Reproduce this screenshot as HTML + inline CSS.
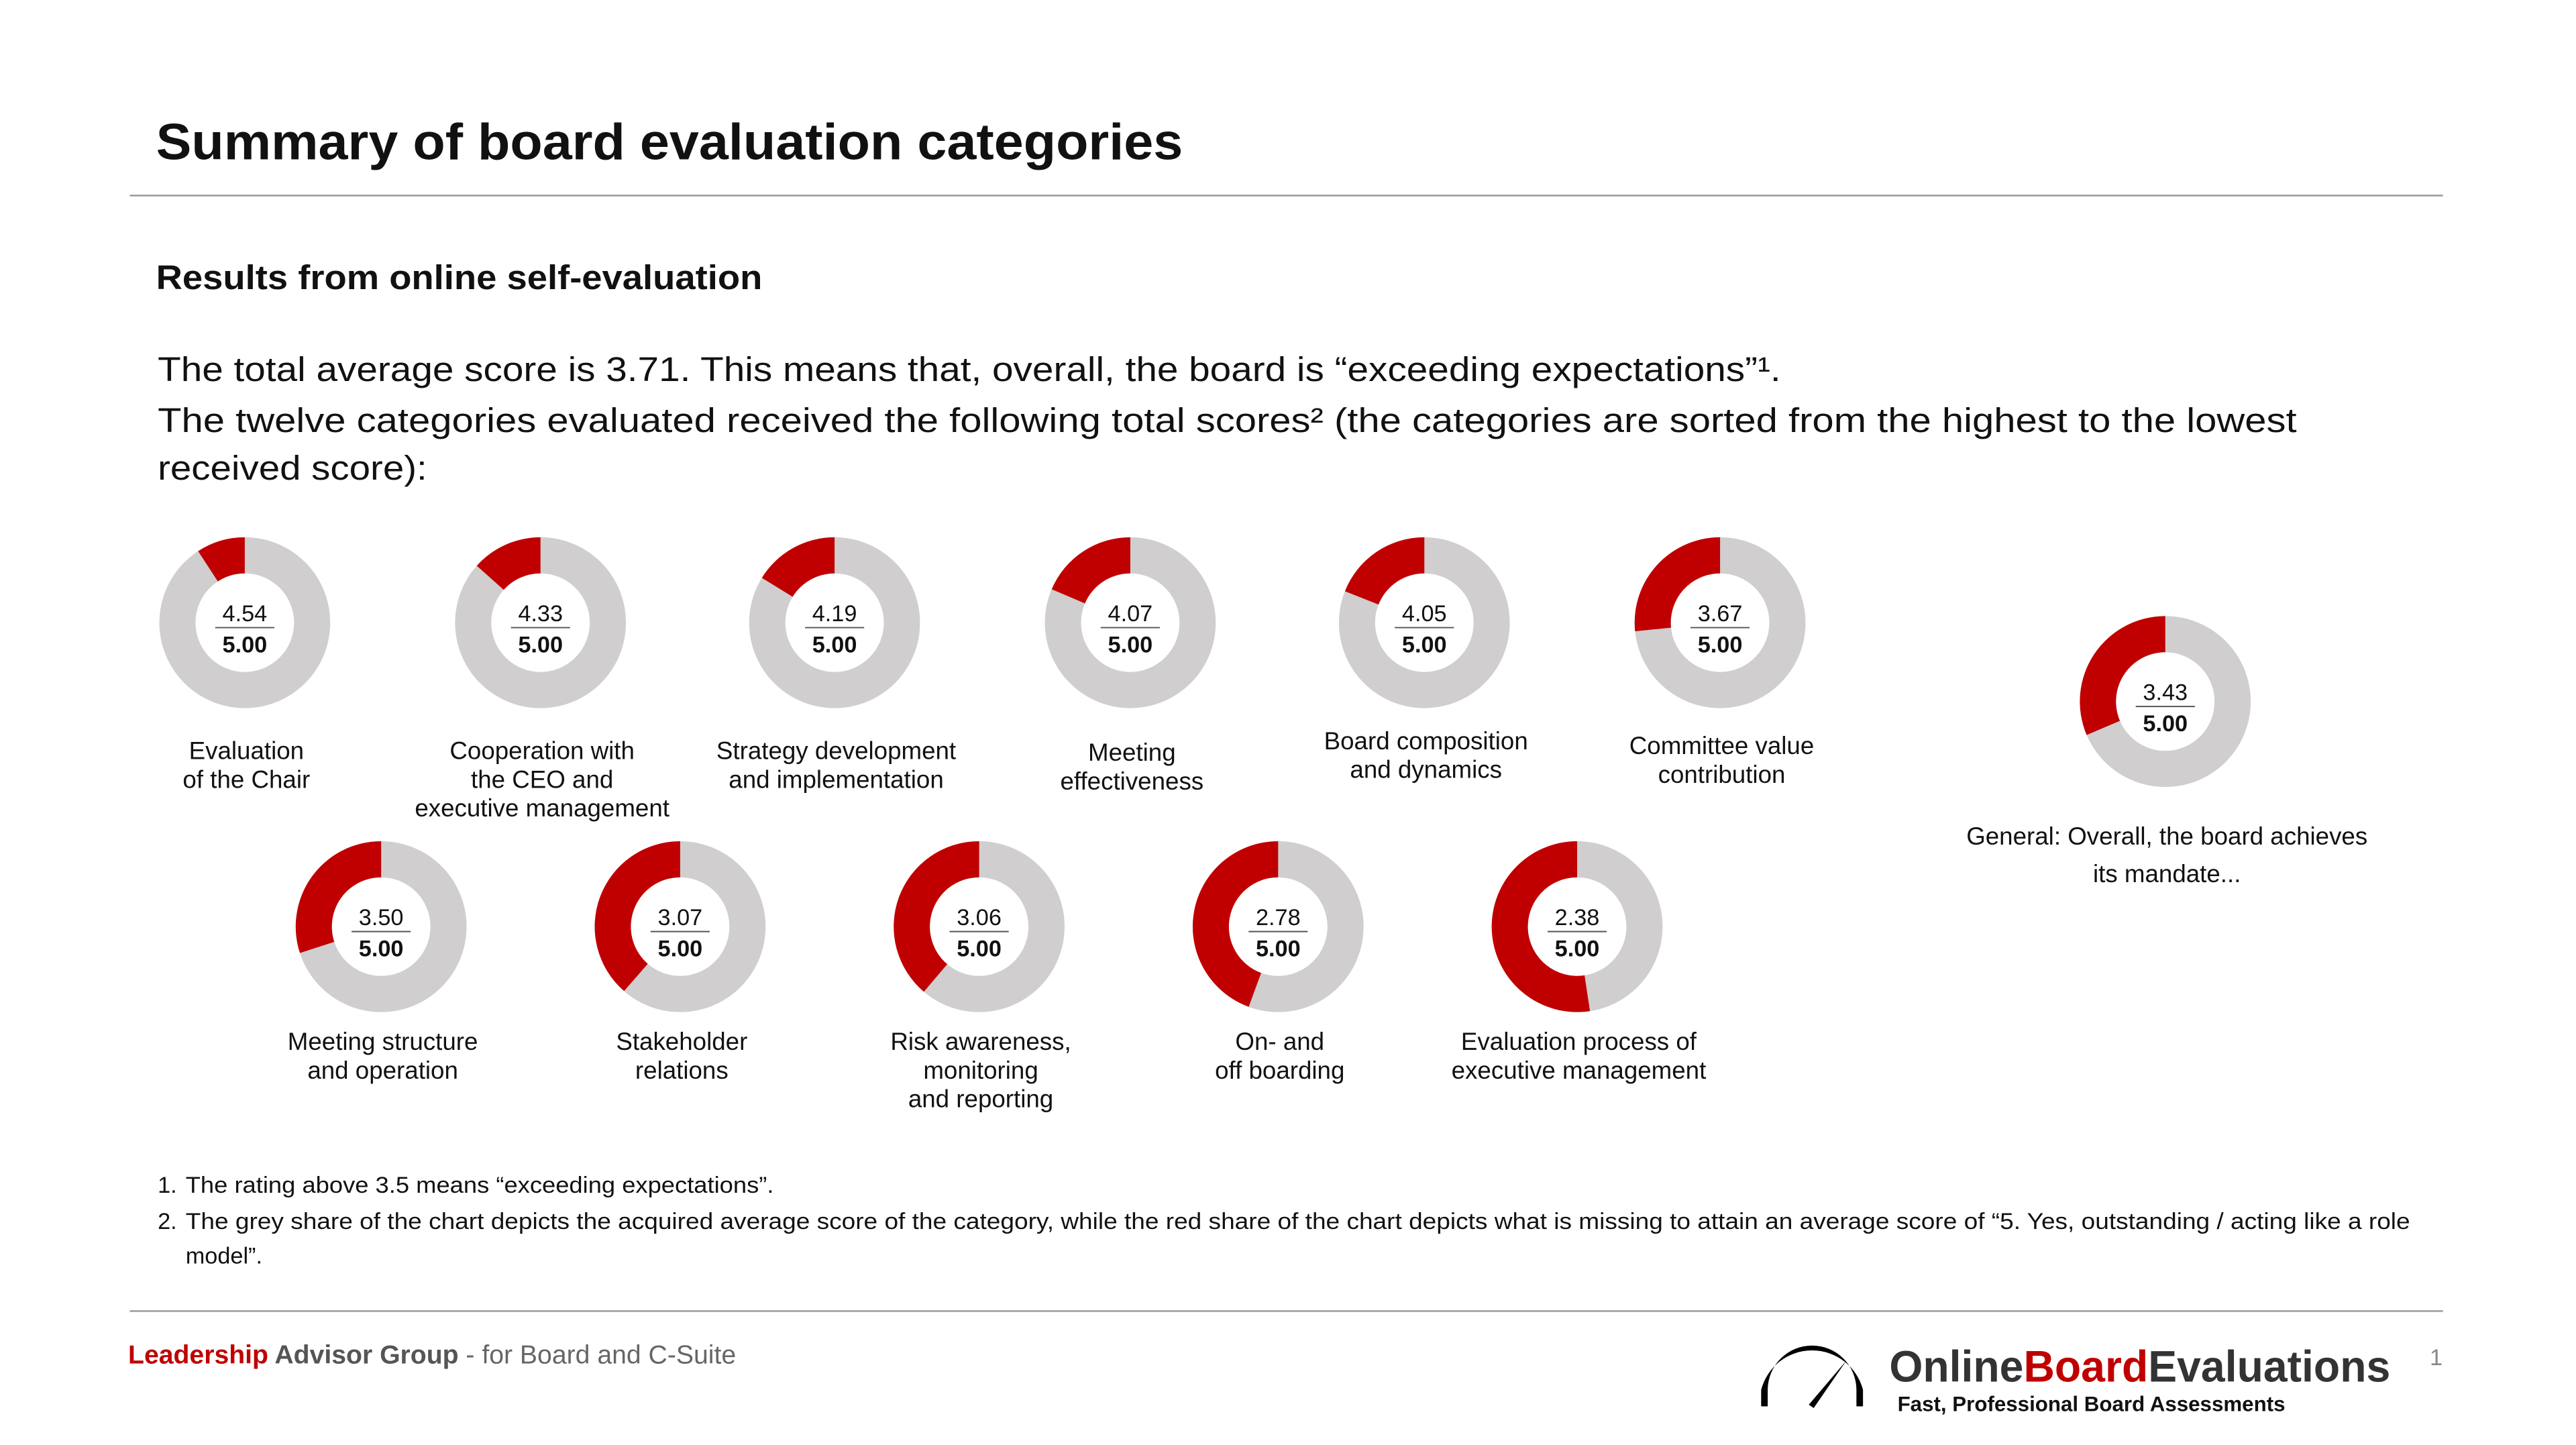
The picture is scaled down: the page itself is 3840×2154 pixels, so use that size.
<!DOCTYPE html>
<html><head><meta charset="utf-8">
<style>
html,body{margin:0;padding:0;background:#fff;}
svg{display:block;}
text{font-family:"Liberation Sans Narrow","Liberation Sans",sans-serif;}
.main{font-family:"Liberation Sans",sans-serif;}
</style></head>
<body>
<svg id="chart" width="3840" height="2154" viewBox="0 0 1568 879.5" xmlns="http://www.w3.org/2000/svg">
  <text class="main" x="95" y="97" font-size="31" font-weight="bold" fill="#111" textLength="625" lengthAdjust="spacingAndGlyphs">Summary of board evaluation categories</text>
  <line x1="79" y1="119" x2="1487" y2="119" stroke="#999" stroke-width="1"/>
  <text class="main" x="95" y="176" font-size="21" font-weight="bold" fill="#111" textLength="369" lengthAdjust="spacingAndGlyphs">Results from online self-evaluation</text>
  <text class="main" x="96" y="232" font-size="21" fill="#111" textLength="988" lengthAdjust="spacingAndGlyphs">The total average score is 3.71. This means that, overall, the board is “exceeding expectations”¹.</text>
  <text class="main" x="96" y="263" font-size="21" fill="#111" textLength="1302" lengthAdjust="spacingAndGlyphs">The twelve categories evaluated received the following total scores² (the categories are sorted from the highest to the lowest</text>
  <text class="main" x="96" y="292" font-size="21" fill="#111" textLength="164" lengthAdjust="spacingAndGlyphs">received score):</text>
  <g id="donuts"></g>
  <text x="96" y="726" font-size="14" fill="#111">1.</text>
  <text x="113" y="726" font-size="14" fill="#111" textLength="358" lengthAdjust="spacingAndGlyphs">The rating above 3.5 means “exceeding expectations”.</text>
  <text x="96" y="748" font-size="14" fill="#111">2.</text>
  <text x="113" y="748" font-size="14" fill="#111" textLength="1354" lengthAdjust="spacingAndGlyphs">The grey share of the chart depicts the acquired average score of the category, while the red share of the chart depicts what is missing to attain an average score of “5. Yes, outstanding / acting like a role</text>
  <text x="113" y="769" font-size="14" fill="#111">model”.</text>
  <line x1="79" y1="798" x2="1487" y2="798" stroke="#999" stroke-width="1"/>
  <text x="78" y="830" font-size="16" textLength="370" lengthAdjust="spacingAndGlyphs"><tspan fill="#c00000" font-weight="bold">Leadership</tspan><tspan fill="#555" font-weight="bold"> Advisor Group</tspan><tspan fill="#666"> - for Board and C-Suite</tspan></text>
  <g>
    <path d="M1072 856 L1072 846 A32 32 0 0 1 1134 846 L1134 856 L1130 856 L1130 846 A27 27 0 0 0 1076 846 L1076 856 Z" fill="#000"/>
    <path d="M1101 855 L1124 828 L1104 857 Z" fill="#000"/>
  </g>
  <text class="main" x="1150" y="841" font-size="27" font-weight="bold" textLength="305" lengthAdjust="spacingAndGlyphs"><tspan fill="#333">Online</tspan><tspan fill="#c00000">Board</tspan><tspan fill="#333">Evaluations</tspan></text>
  <text x="1155" y="859" font-size="13" font-weight="bold" fill="#111" textLength="236" lengthAdjust="spacingAndGlyphs">Fast, Professional Board Assessments</text>
  <text x="1479" y="831" font-size="14" fill="#888">1</text>
</svg>
<script>
const categories = [
  ["Evaluation","of the Chair"],
  ["Cooperation with","the CEO and","executive management"],
  ["Strategy development","and implementation"],
  ["Meeting","effectiveness"],
  ["Board composition","and dynamics"],
  ["Committee value","contribution"],
  ["Meeting structure","and operation"],
  ["Stakeholder","relations"],
  ["Risk awareness,","monitoring","and reporting"],
  ["On- and","off boarding"],
  ["Evaluation process of","executive management"],
  ["General: Overall, the board achieves","its mandate..."]
];
const scores = [4.54, 4.33, 4.19, 4.07, 4.05, 3.67, 3.50, 3.07, 3.06, 2.78, 2.38, 3.43];
const maxScore = 5;
const layout = [
  [149,379,462],[329,379,462],[508,379,462],[688,379,463],[867,379,456],[1047,379,459],
  [232,564,639],[414,564,639],[596,564,639],[778,564,639],[960,564,639],
  [1318,427,514]
];
const NS = "http://www.w3.org/2000/svg";
const g = document.getElementById("donuts");
const R = 52, r = 30;
function pt(cx, cy, rad, frac){ const a = frac*2*Math.PI; return [cx + rad*Math.sin(a), cy - rad*Math.cos(a)]; }
function el(tag, attrs){ const e = document.createElementNS(NS, tag); for (const k in attrs) e.setAttribute(k, attrs[k]); return e; }
scores.forEach((v, i) => {
  const [cx, cy, ly] = layout[i];
  const grp = el("g", {});
  
  
  const ring = el("circle", {cx, cy, r:(R+r)/2, fill:"none", stroke:"#d0cece", "stroke-width":R-r});
  
  
  grp.appendChild(ring);
  const miss = (maxScore - v)/maxScore;
  const [x1,y1] = pt(cx,cy,R,0), [x2,y2] = pt(cx,cy,R,-miss);
  const [x3,y3] = pt(cx,cy,r,-miss), [x4,y4] = pt(cx,cy,r,0);
  const large = miss > 0.5 ? 1 : 0;
  const p = el("path", {d:`M${x1} ${y1} A${R} ${R} 0 ${large} 0 ${x2} ${y2} L${x3} ${y3} A${r} ${r} 0 ${large} 1 ${x4} ${y4} Z`, fill:"#c00000"});
  
  
  grp.appendChild(p);
  const t1 = el("text", {x:cx, y:cy-1, "font-size":14, "text-anchor":"middle", fill:"#111"});
  t1.textContent = v.toFixed(2);
  
  
  grp.appendChild(t1);
  const ln = el("line", {x1:cx-18, y1:cy+3, x2:cx+18, y2:cy+3, stroke:"#555", "stroke-width":0.8});
  
  
  grp.appendChild(ln);
  const t2 = el("text", {x:cx, y:cy+18, "font-size":14, "font-weight":"bold", "text-anchor":"middle", fill:"#111"});
  t2.textContent = maxScore.toFixed(2);
  
  
  grp.appendChild(t2);
  const lineGap = i === 11 ? 23 : 17.5;
  categories[i].forEach((s, j) => {
    const t = el("text", {x:cx+1, y:ly + j*lineGap, "font-size":15, "text-anchor":"middle", fill:"#111"});
    t.textContent = s;
    
    
    grp.appendChild(t);
  });
  g.appendChild(grp);
});
</script>
</body></html>
